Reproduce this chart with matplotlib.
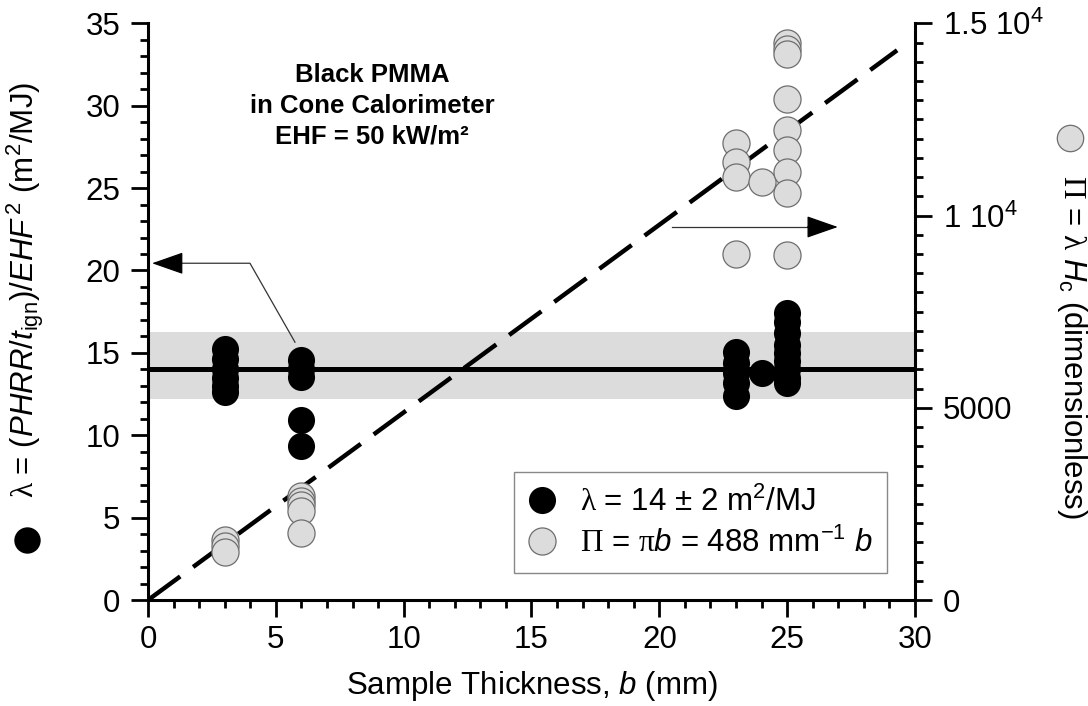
import matplotlib
matplotlib.use('Agg')
import matplotlib.pyplot as plt
from matplotlib.lines import Line2D
from matplotlib.ticker import MultipleLocator, FuncFormatter

# 폰트 설정 (Helvetica 대신 Liberation Sans, 그리스 문자는 세리프체)
plt.rcParams['font.family'] = ['Liberation Sans', 'DejaVu Sans']
plt.rcParams['mathtext.fontset'] = 'custom'
plt.rcParams['mathtext.rm'] = 'Liberation Sans'
plt.rcParams['mathtext.it'] = 'Liberation Sans:italic'
plt.rcParams['mathtext.bf'] = 'Liberation Sans:bold'
plt.rcParams['mathtext.cal'] = 'Liberation Serif'

# λ 데이터 (시료 두께 b [mm], λ [m2/MJ])
thick_lambda = [3, 3, 3, 3, 3, 3,
                6, 6, 6, 6, 6,
                23, 23, 23, 23, 23,
                24,
                25, 25, 25, 25, 25, 25, 25, 25, 25]
lambda_vals = [15.25, 14.6, 14.0, 13.5, 13.0, 12.6,
               14.55, 14.05, 13.55, 10.95, 9.35,
               15.05, 14.4, 13.8, 13.2, 12.4,
               13.75,
               17.4, 16.9, 16.2, 15.5, 15.0, 14.5, 14.0, 13.5, 13.2]

# Π 데이터 (무차원)
thick_pi = [3, 3, 3,
            6, 6, 6, 6, 6,
            23, 23, 23, 23,
            24,
            25, 25, 25, 25, 25, 25, 25, 25, 25]
pi_vals = [1564, 1414, 1243,
           2700, 2571, 2464, 2314, 1736,
           11884, 11391, 11001, 9010,
           10872,
           14485, 14340, 14208, 13038, 12215, 11713, 11145, 10586, 8966]

# 평균값과 범위, 기울기
lambda_mean = 14
lambda_band = [12.2, 16.25]
pi_slope = 488          # Π = 488 mm^-1 * b
fit_range = [0, 29.3]   # 점선 구간 (mm)

fig = plt.figure(figsize=(10.88, 7.06), dpi=100)
ax = fig.add_axes([0.136, 0.150, 0.705, 0.817])
ax2 = ax.twinx()

ax.set_xlim(0, 30)
ax.set_ylim(0, 35)
ax2.set_ylim(0, 15000)

# 회색 띠 + 평균선
ax.axhspan(lambda_band[0], lambda_band[1], color='#dcdcdc', lw=0, zorder=0)
ax.plot([0, 30], [lambda_mean, lambda_mean], color='black', lw=3.6, zorder=1,
        solid_capstyle='butt')

# λ 검은 원
h_black, = ax.plot(thick_lambda, lambda_vals, 'o', ms=19.5, color='black',
                   mec='none', zorder=3, clip_on=False)

# Π = πb 점선
ax2.plot(fit_range, [pi_slope * b for b in fit_range], color='black', lw=3.2,
         linestyle=(0, (9, 3.6)), dash_capstyle='butt', zorder=2)

# Π 회색 원
h_gray, = ax2.plot(thick_pi, pi_vals, 'o', ms=19.5, mfc='#dcdcdc', mec='#6e6e6e',
                   mew=0.9, zorder=3, clip_on=False)

# 화살표 (왼쪽 축 / 오른쪽 축 가리킴)
ax.plot([5.75, 3.99, 0.9], [15.65, 20.44, 20.44], color='#333333', lw=0.9, zorder=4)
ax.annotate('', xy=(0.16, 20.44), xytext=(1.2, 20.44),
            arrowprops=dict(arrowstyle='-|>,head_length=20,head_width=7',
                            mutation_scale=1, color='black', lw=0.9,
                            shrinkA=0, shrinkB=0), zorder=4)
ax.plot([20.48, 26.0], [22.64, 22.64], color='#333333', lw=0.9, zorder=4)
ax.annotate('', xy=(26.98, 22.64), xytext=(25.8, 22.64),
            arrowprops=dict(arrowstyle='-|>,head_length=20,head_width=7',
                            mutation_scale=1, color='black', lw=0.9,
                            shrinkA=0, shrinkB=0), zorder=4)

# 제목 텍스트
ax.text(8.76, 30.0, 'Black PMMA\nin Cone Calorimeter\nEHF = 50 kW/m²',
        ha='center', va='center', fontsize=18.5, fontweight='bold', linespacing=1.36)

# 축 눈금 설정
ax.xaxis.set_major_locator(MultipleLocator(5))
ax.xaxis.set_minor_locator(MultipleLocator(1))
ax.yaxis.set_major_locator(MultipleLocator(5))
ax.yaxis.set_minor_locator(MultipleLocator(1))
ax2.yaxis.set_major_locator(MultipleLocator(5000))
ax2.yaxis.set_minor_locator(MultipleLocator(500))


def right_fmt(v, pos):
    if v == 0:
        return '0'
    if v == 5000:
        return '5000'
    return '%g 10$^4$' % (v / 10000)


ax2.yaxis.set_major_formatter(FuncFormatter(right_fmt))

for a in (ax, ax2):
    a.tick_params(which='major', direction='out', length=12, width=2, labelsize=22.5)
    a.tick_params(which='minor', direction='out', length=6, width=2)
ax.tick_params(axis='y', which='major', pad=8)
ax.tick_params(axis='x', which='major', pad=6)
ax2.tick_params(axis='y', which='major', pad=8)
ax.tick_params(top=False, right=False, which='both')

ax.spines['top'].set_visible(False)
ax.spines['right'].set_visible(False)
for s in ('top', 'left', 'bottom'):
    ax2.spines[s].set_visible(False)
ax.spines['left'].set_linewidth(2.2)
ax.spines['bottom'].set_linewidth(2.2)
ax2.spines['right'].set_linewidth(2.2)

# 축 라벨
ax.set_xlabel('Sample Thickness, $b$ (mm)', fontsize=22.5, labelpad=10)
fig.text(0.023, 0.590,
         r'$\mathcal{\lambda}$ = ($PHRR/t_{\mathrm{ign}}$)/$EHF^{\,2}$ (m$^2$/MJ)',
         rotation=90, ha='center', va='center', fontsize=22.5)
fig.add_artist(Line2D([0.0248], [0.235], marker='o', ms=19, color='black',
                      mec='none', transform=fig.transFigure))
fig.text(0.985, 0.508,
         r'$\mathcal{\Pi}$ = $\mathcal{\lambda}$ $H_{\mathrm{c}}$ (dimensionless)',
         rotation=270, ha='center', va='center', fontsize=22.5)
fig.add_artist(Line2D([0.983], [0.8045], marker='o', ms=19, mfc='#dcdcdc',
                      mec='#6e6e6e', mew=0.9, transform=fig.transFigure))

# 범례
leg = ax2.legend([h_black, h_gray],
                 [r'$\mathcal{\lambda}$ = 14 ± 2 m$^2$/MJ',
                  r'$\mathcal{\Pi}$ = $\mathcal{\pi}b$ = 488 mm$^{-1}$ $b$'],
                 loc='lower right', bbox_to_anchor=(0.963, 0.047), fontsize=22.5,
                 frameon=True, fancybox=False, edgecolor='#888888', framealpha=1,
                 handlelength=0.9, handletextpad=0.75, borderpad=0.45,
                 labelspacing=0.32, borderaxespad=0)
leg.get_frame().set_linewidth(1.0)
leg.set_zorder(10)

plt.savefig('out.png', dpi=100)
